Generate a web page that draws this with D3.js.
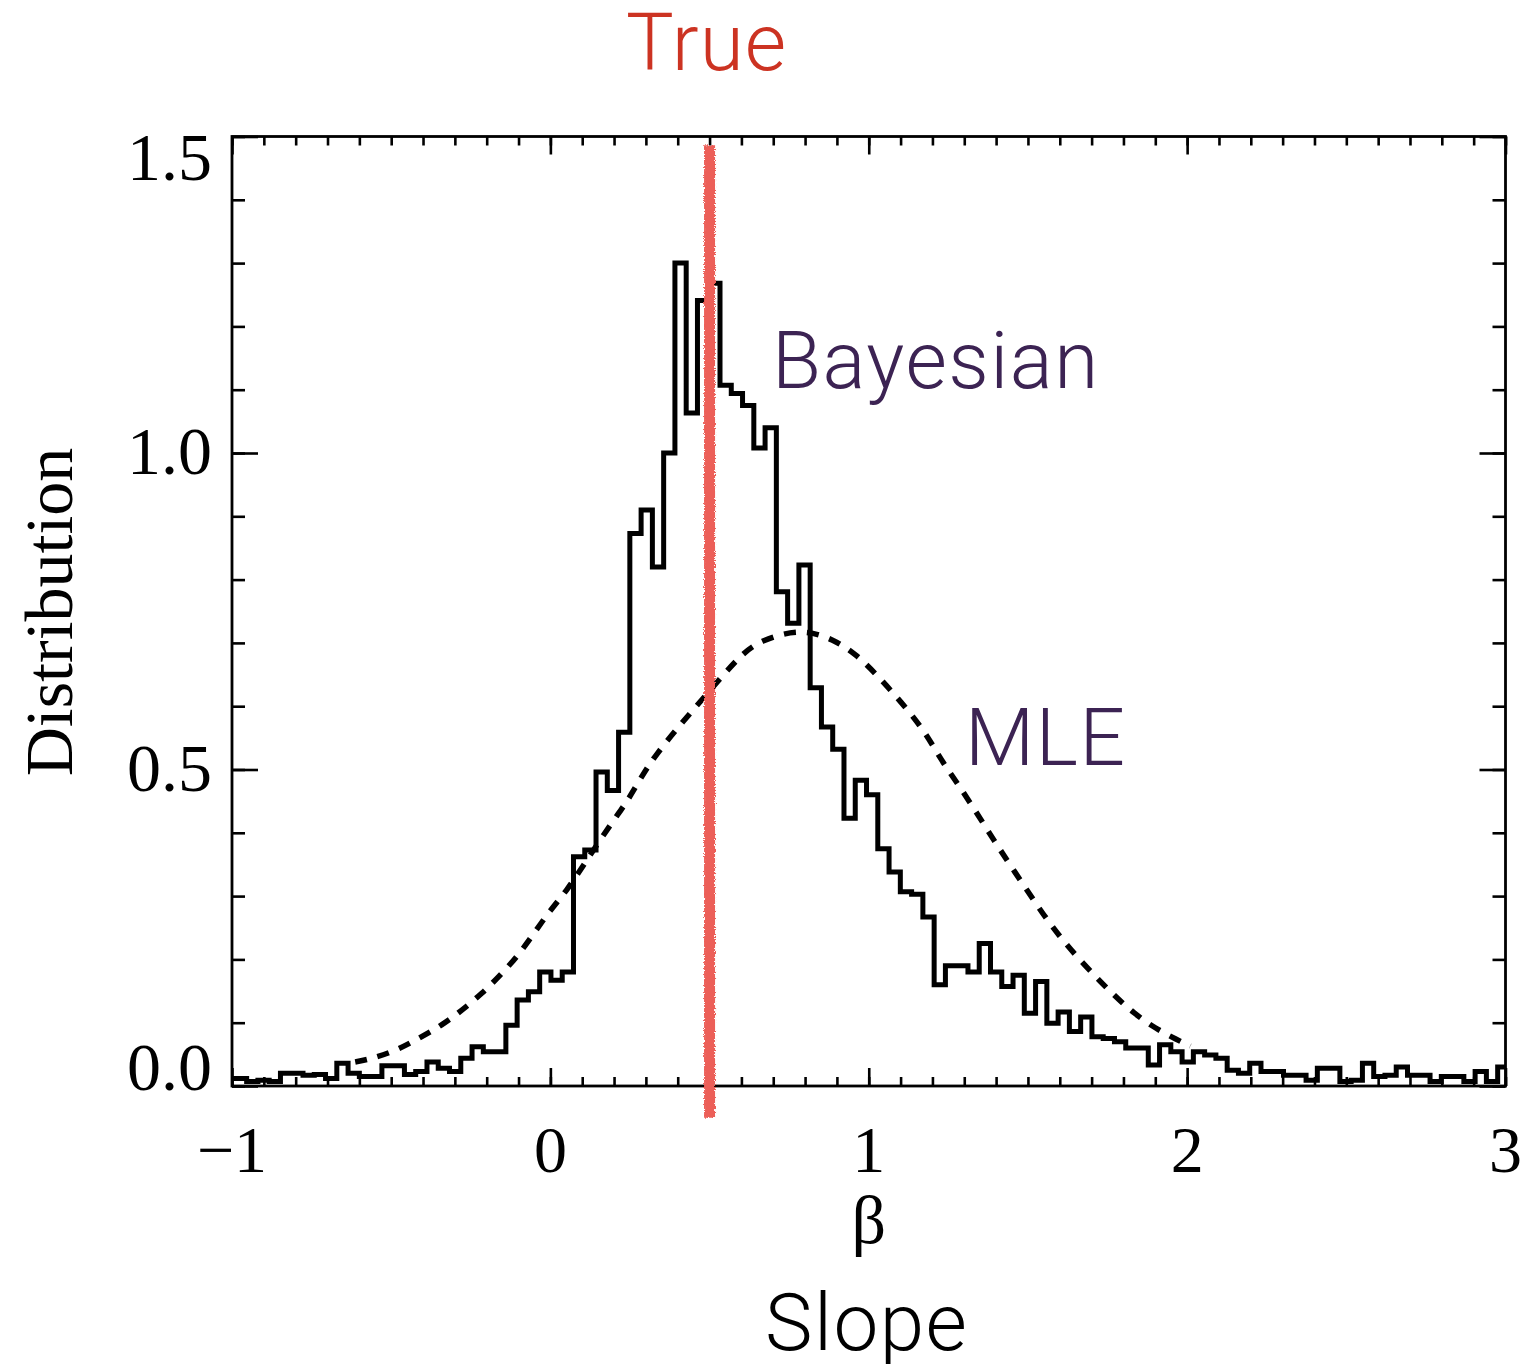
<!DOCTYPE html>
<html>
<head>
<meta charset="utf-8">
<script src="https://cdn.jsdelivr.net/npm/d3@7"></script>
<style>
  html, body { margin: 0; padding: 0; background: #ffffff; }
  svg { display: block; }
</style>
</head>
<body>
<div id="chart"></div>
<script>
// ---------------- DATA ----------------
const xDomain = [-1, 3];
const yDomain = [0, 1.5];
const xTickValues = [-1, 0, 1, 2, 3];
const xTickLabels = ["\u22121", "0", "1", "2", "3"];
const yTickValues = [0, 0.5, 1.0, 1.5];
const yTickLabels = ["0.0", "0.5", "1.0", "1.5"];

// Histogram of Bayesian posterior slope draws (bin start + width, heights)
const binStart = -1.0248;
const binWidth = 0.0354;
const bayesHeights = [
  0.012, 0.012, 0.007, 0.009, 0.007, 0.020, 0.020, 0.017, 0.018, 0.012,
  0.036, 0.020, 0.015, 0.015, 0.032, 0.032, 0.018, 0.023, 0.038, 0.028,
  0.023, 0.044, 0.062, 0.054, 0.054, 0.096, 0.136, 0.149, 0.180, 0.167,
  0.180, 0.362, 0.373, 0.496, 0.467, 0.559, 0.873, 0.910, 0.820, 1.000,
  1.300, 1.063, 1.241, 1.268, 1.107, 1.094, 1.075, 1.008, 1.040, 0.781,
  0.731, 0.823, 0.629, 0.567, 0.532, 0.423, 0.483, 0.460, 0.375, 0.338,
  0.307, 0.303, 0.267, 0.160, 0.190, 0.190, 0.180, 0.225, 0.180, 0.157,
  0.175, 0.115, 0.165, 0.099, 0.117, 0.086, 0.109, 0.078, 0.075, 0.070,
  0.060, 0.060, 0.033, 0.065, 0.054, 0.038, 0.054, 0.049, 0.044, 0.025,
  0.020, 0.036, 0.023, 0.023, 0.017, 0.017, 0.009, 0.028, 0.028, 0.007,
  0.009, 0.036, 0.015, 0.017, 0.030, 0.017, 0.017, 0.007, 0.015, 0.015,
  0.007, 0.023, 0.007, 0.030
];

// MLE sampling distribution (dashed curve)
const mleBeta = [-0.613, -0.571, -0.492, -0.414, -0.340, -0.277, -0.215, -0.157, -0.100, -0.052,
  0.000, 0.052, 0.100, 0.194, 0.241, 0.283, 0.330, 0.420, 0.500, 0.597, 0.660,
  0.785, 0.890, 0.963, 1.026, 1.078, 1.131, 1.183, 1.225, 1.272, 1.335, 1.393,
  1.455, 1.545, 1.597, 1.654, 1.712, 1.769, 1.832, 1.900, 1.969, 2.010];
const mleDensity = [0.038, 0.042, 0.054, 0.075, 0.096, 0.120, 0.146, 0.175, 0.207, 0.241,
  0.278, 0.309, 0.346, 0.417, 0.449, 0.486, 0.523, 0.578, 0.624, 0.681, 0.704,
  0.723, 0.706, 0.681, 0.649, 0.620, 0.589, 0.554, 0.517, 0.483, 0.435, 0.388,
  0.341, 0.273, 0.238, 0.204, 0.173, 0.144, 0.115, 0.091, 0.073, 0.063];

const trueSlope = 0.5;
const trueLineExtent = [-0.05, 1.486];

// ---------------- LAYOUT ----------------
const W = 1520, H = 1364;
const margin = { left: 232, right: 14.5, top: 136.5, bottom: 278 };
const iw = W - margin.left - margin.right;
const ih = H - margin.top - margin.bottom;

const svg = d3.select("#chart").append("svg")
  .attr("width", W).attr("height", H)
  .attr("viewBox", `0 0 ${W} ${H}`);

const defs = svg.append("defs");
defs.append("clipPath").attr("id", "plotclip")
  .append("rect").attr("x", 0).attr("y", -2).attr("width", iw).attr("height", ih + 2);
const rough = defs.append("filter").attr("id", "crayon")
  .attr("filterUnits", "userSpaceOnUse")
  .attr("x", -200).attr("y", -200).attr("width", W + 400).attr("height", H + 400);
rough.append("feTurbulence").attr("type", "fractalNoise").attr("baseFrequency", "0.9")
  .attr("numOctaves", 2).attr("seed", 3).attr("result", "noise");
rough.append("feDisplacementMap").attr("in", "SourceGraphic").attr("in2", "noise")
  .attr("scale", 4).attr("xChannelSelector", "R").attr("yChannelSelector", "G");

const g = svg.append("g").attr("transform", `translate(${margin.left},${margin.top})`);

const x = d3.scaleLinear().domain(xDomain).range([0, iw]);
const y = d3.scaleLinear().domain(yDomain).range([ih, 0]);

// ---------------- AXES (IDL style box with inward ticks) ----------------
const minorX = d3.range(-1, 3.0001, 0.1).map(v => +v.toFixed(2));
const minorY = d3.range(0, 1.5001, 0.1).map(v => +v.toFixed(2));
const tickStroke = 2.6;

function styleAxis(sel) {
  sel.select(".domain").remove();
  sel.selectAll(".tick line").attr("stroke", "#000").attr("stroke-width", tickStroke);
  sel.selectAll("text").remove();
}

// bottom
g.append("g").attr("transform", `translate(0,${ih})`)
  .call(d3.axisBottom(x).tickValues(minorX).tickSize(-9)).call(styleAxis);
g.append("g").attr("transform", `translate(0,${ih})`)
  .call(d3.axisBottom(x).tickValues(xTickValues).tickSize(-18)).call(styleAxis);
// top
g.append("g").call(d3.axisTop(x).tickValues(minorX).tickSize(-9)).call(styleAxis);
g.append("g").call(d3.axisTop(x).tickValues(xTickValues).tickSize(-18)).call(styleAxis);
// left
g.append("g").call(d3.axisLeft(y).tickValues(minorY).tickSize(-13)).call(styleAxis);
g.append("g").call(d3.axisLeft(y).tickValues(yTickValues).tickSize(-26)).call(styleAxis);
// right
g.append("g").attr("transform", `translate(${iw},0)`)
  .call(d3.axisRight(y).tickValues(minorY).tickSize(-13)).call(styleAxis);
g.append("g").attr("transform", `translate(${iw},0)`)
  .call(d3.axisRight(y).tickValues(yTickValues).tickSize(-26)).call(styleAxis);

// frame
g.append("rect").attr("x", 0).attr("y", 0).attr("width", iw).attr("height", ih)
  .attr("fill", "none").attr("stroke", "#000").attr("stroke-width", 2.8);

// tick labels
const serif = "'Liberation Serif', 'Times New Roman', Times, serif";
g.append("g").selectAll("text").data(xTickValues).join("text")
  .attr("x", d => x(d)).attr("y", ih + 86)
  .attr("text-anchor", "middle")
  .attr("font-family", serif).attr("font-size", 66).attr("fill", "#000")
  .text((d, i) => xTickLabels[i]);

const yLabelShift = v => v === 1.5 ? 43 : (v === 0 ? 4 : 21);
g.append("g").selectAll("text").data(yTickValues).join("text")
  .attr("x", -20).attr("y", d => y(d) + yLabelShift(d))
  .attr("text-anchor", "end")
  .attr("font-family", serif).attr("font-size", 68).attr("fill", "#000")
  .text((d, i) => yTickLabels[i]);

// axis titles
svg.append("text")
  .attr("transform", `translate(72,${612}) rotate(-90)`)
  .attr("text-anchor", "middle")
  .attr("font-family", serif).attr("font-size", 68).attr("fill", "#000")
  .text("Distribution");

svg.append("text")
  .attr("x", margin.left + x(1)).attr("y", 1243)
  .attr("text-anchor", "middle")
  .attr("font-family", serif).attr("font-size", 68).attr("fill", "#000")
  .text("\u03B2");

// ---------------- DATA MARKS ----------------
const plot = g.append("g").attr("clip-path", "url(#plotclip)");

// histogram (step outline)
const histPts = bayesHeights.map((v, i) => [binStart + i * binWidth, v]);
histPts.push([binStart + bayesHeights.length * binWidth, bayesHeights[bayesHeights.length - 1]]);
const stepLine = d3.line().x(d => x(d[0])).y(d => y(d[1])).curve(d3.curveStepAfter);
plot.append("path").datum(histPts)
  .attr("d", stepLine)
  .attr("fill", "none").attr("stroke", "#000").attr("stroke-width", 5)
  .attr("stroke-linejoin", "miter");

// MLE dashed curve
const mlePts = mleBeta.map((b, i) => [b, mleDensity[i]]);
const smooth = d3.line().x(d => x(d[0])).y(d => y(d[1])).curve(d3.curveBasis);
plot.append("path").datum(mlePts)
  .attr("d", smooth)
  .attr("fill", "none").attr("stroke", "#000").attr("stroke-width", 5.5)
  .attr("stroke-dasharray", "12,11");

// true slope (hand-drawn red line)
const trueLine = d3.line().x(d => x(d[0])).y(d => y(d[1]));
g.append("path")
  .datum([[trueSlope, trueLineExtent[1]], [trueSlope, trueLineExtent[0]]])
  .attr("d", trueLine)
  .attr("fill", "none")
  .attr("stroke", "#ec5f58").attr("stroke-width", 11)
  .attr("filter", "url(#crayon)");

// ---------------- ANNOTATIONS ----------------
const sans = "'Helvetica Neue', Roboto, 'Liberation Sans', Arial, sans-serif";
svg.append("text")
  .attr("x", margin.left + x(trueSlope) - 3).attr("y", 70)
  .attr("text-anchor", "middle")
  .attr("font-family", sans).attr("font-weight", 300).attr("font-size", 80)
  .attr("letter-spacing", 1)
  .attr("fill", "#cc3322").text("True");

svg.append("text")
  .attr("x", 772).attr("y", 388)
  .attr("font-family", sans).attr("font-weight", 300).attr("font-size", 80)
  .attr("letter-spacing", 1.5)
  .attr("fill", "#3c2353").text("Bayesian");

svg.append("text")
  .attr("x", 965).attr("y", 765)
  .attr("font-family", sans).attr("font-weight", 300).attr("font-size", 80)
  .attr("letter-spacing", 1.5)
  .attr("fill", "#3c2353").text("MLE");

svg.append("text")
  .attr("x", margin.left + x(1) - 2).attr("y", 1350)
  .attr("text-anchor", "middle")
  .attr("font-family", sans).attr("font-weight", 300).attr("font-size", 80)
  .attr("letter-spacing", 1.5)
  .attr("fill", "#000").text("Slope");
</script>
</body>
</html>
